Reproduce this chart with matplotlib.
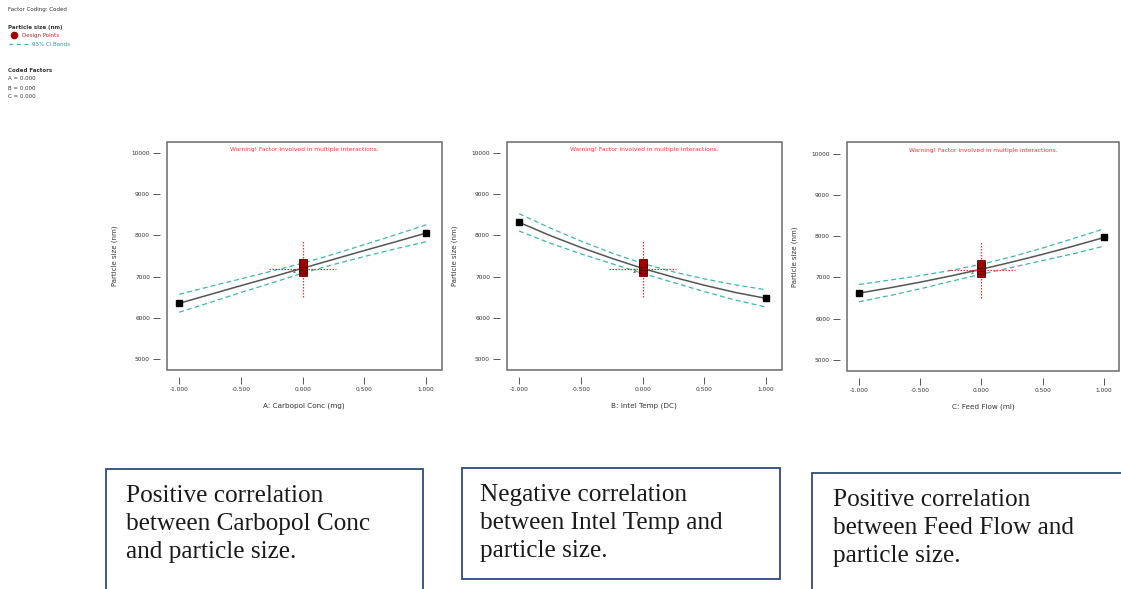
from matplotlib import pyplot as plt
from matplotlib.patches import Rectangle
import numpy as np

# coded factor levels where the model curves are read
x_levels = [-1, -0.75, -0.5, -0.25, 0, 0.25, 0.5, 0.75, 1]

# A: Carbopol Conc
pred_A = [6350, 6565, 6780, 6990, 7205, 7420, 7635, 7845, 8060]
upper_A = [6570, 6760, 6945, 7135, 7325, 7545, 7780, 8015, 8260]
lower_A = [6135, 6370, 6615, 6845, 7085, 7295, 7490, 7675, 7850]

# B: Inlet Temp
pred_B = [8320, 8000, 7710, 7445, 7200, 6985, 6790, 6615, 6470]
upper_B = [8530, 8185, 7865, 7575, 7320, 7115, 6945, 6800, 6680]
lower_B = [8110, 7815, 7555, 7315, 7080, 6855, 6635, 6430, 6260]

# C: Feed Flow
pred_C = [6620, 6747, 6886, 7037, 7200, 7375, 7562, 7760, 7970]
upper_C = [6830, 6935, 7045, 7170, 7320, 7505, 7715, 7945, 8180]
lower_C = [6410, 6560, 6725, 6905, 7080, 7245, 7410, 7575, 7760]

# centre point replicates and the LSD cross
centre_points = [7110, 7190, 7260, 7320]
lsd_vert = [6510, 7860]
lsd_horiz = [-0.27, 0.27]
lsd_y = 7185

x_titles = ['A: Carbopol Conc (mg)', 'B: Intel Temp (DC)', 'C: Feed Flow (ml)']
y_title = 'Particle size (nm)'
y_ticks = [5000, 6000, 7000, 8000, 9000, 10000]
x_ticks = [-1.0, -0.5, 0.0, 0.5, 1.0]
warning = 'Warning! Factor involved in multiple interactions.'

notes = [
    'Positive correlation\nbetween Carbopol Conc\nand particle size.',
    'Negative correlation\nbetween Intel Temp and\nparticle size.',
    'Positive correlation\nbetween Feed Flow and\nparticle size.',
]

W, H = 1121, 589
fig = plt.figure(figsize=(W / 100, H / 100), dpi=100)
fig.patch.set_facecolor('white')

def px(x0, y0, x1, y1):
    # pixel box (top-left origin) -> figure fraction rect
    return [x0 / W, 1 - y1 / H, (x1 - x0) / W, (y1 - y0) / H]

panels = [
    (px(166.7, 141.7, 441.7, 370), pred_A, upper_A, lower_A),
    (px(506.7, 141.7, 781.7, 370), pred_B, upper_B, lower_B),
    (px(846.7, 142.3, 1119.3, 371), pred_C, upper_C, lower_C),
]

band_col = '#3fb6b0'
lsd_col = '#ff2a2a'
for i, (rect, pred, up, lo) in enumerate(panels):
    ax = fig.add_axes(rect)
    ax.set_xlim(-1.10, 1.125)
    ax.set_ylim(4730, 10280)
    for s in ax.spines.values():
        s.set_visible(False)
    ax.spines['left'].set_position(('outward', 5))
    ax.spines['bottom'].set_position(('outward', 5))
    ax.add_patch(Rectangle((0, 0), 1, 1, transform=ax.transAxes, fill=False,
                           ec='#6a6a6a', lw=1.1, clip_on=False, zorder=5))

    ax.plot(x_levels, up, '--', color=band_col, lw=0.9, dashes=(4, 2.5))
    ax.plot(x_levels, lo, '--', color=band_col, lw=0.9, dashes=(4, 2.5))
    ax.plot(x_levels, pred, '-', color='#555555', lw=1.1)

    ax.plot([0, 0], lsd_vert, color=lsd_col, lw=0.9, dashes=(1.2, 1.2), zorder=3)
    ax.plot(lsd_horiz, [lsd_y, lsd_y], color=lsd_col, lw=0.9, dashes=(1.2, 1.2), zorder=3)

    ax.plot([x_levels[0], x_levels[-1]], [pred[0], pred[-1]], 's',
            color='black', ms=4.5)
    ax.plot([0] * len(centre_points), centre_points, 's', color='#a00000',
            mec='#5a0000', mew=0.6, ms=5.5, zorder=4)
    ax.text(-0.07, 7130, '2', fontsize=4, color='#333333', ha='center', va='center')

    ax.set_xticks(x_ticks)
    ax.set_xticklabels(['%.3f' % v for v in x_ticks])
    ax.set_yticks(y_ticks)
    ax.set_yticklabels([str(v) for v in y_ticks])
    ax.tick_params(direction='out', length=5, width=0.7, color='#555555',
                   labelsize=4.2, labelcolor='#333333', pad=2)
    ax.set_xlabel(x_titles[i], fontsize=5.2, color='#333333', labelpad=8)
    ax.set_ylabel(y_title, fontsize=5, color='#333333', labelpad=10)
    ax.text(0.5, 0.965, warning, transform=ax.transAxes, ha='center', va='center',
            fontsize=4.3, color='#ff3030')

# legend block in the top left corner
fig.text(8 / W, 1 - 9 / H, 'Factor Coding: Coded', fontsize=4, color='#333333', va='center')
fig.text(8 / W, 1 - 27 / H, 'Particle size (nm)', fontsize=4, color='#333333',
         va='center', fontweight='bold')
fig.lines.append(plt.Line2D([14 / W], [1 - 35 / H], marker='o', ms=4.5, color='#a00000',
                            transform=fig.transFigure))
fig.text(22 / W, 1 - 35 / H, 'Design Points', fontsize=4, color='#cc2222', va='center')
fig.lines.append(plt.Line2D([9 / W, 32 / W], [1 - 44 / H, 1 - 44 / H], ls='--',
                            dashes=(3, 3), lw=0.9, color=band_col,
                            transform=fig.transFigure))
fig.text(32 / W, 1 - 44 / H, '95% CI Bands', fontsize=4, color='#2a9a96', va='center')
fig.text(8 / W, 1 - 71 / H, 'Coded Factors', fontsize=4, color='#333333',
         va='center', fontweight='bold')
for j, name in enumerate(['A', 'B', 'C']):
    fig.text(8 / W, 1 - (79 + 9 * j) / H, name + ' = 0.000', fontsize=4,
             color='#333333', va='center')

# annotation boxes along the bottom
boxes = [
    (105.5, 469.3, 423.3, 600, 125.5, 484.5),
    (461.7, 468.3, 780, 579, 480, 483.5),
    (812.3, 473.3, 1130, 600, 833, 488.5),
]
for (x0, y0, x1, y1, tx, ty), note in zip(boxes, notes):
    fig.patches.append(Rectangle((x0 / W, 1 - y1 / H), (x1 - x0) / W, (y1 - y0) / H,
                                 transform=fig.transFigure, fill=False,
                                 ec='#2f4a80', lw=1.3))
    fig.text(tx / W, 1 - ty / H, note, fontsize=18.2, family='Liberation Serif',
             color='#1a1a1a', va='top', ha='left', linespacing=1.37)

fig.savefig('out.png', dpi=100)
